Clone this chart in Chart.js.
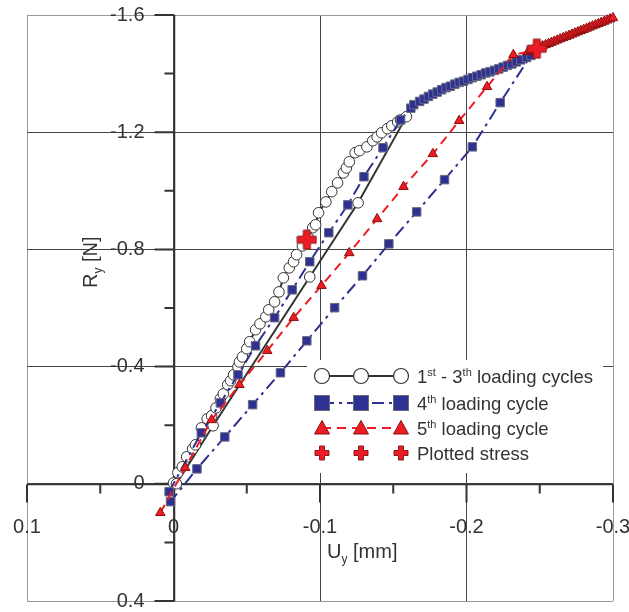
<!DOCTYPE html>
<html>
<head>
<meta charset="utf-8">
<style>
  body { margin: 0; background: #fff; }
  canvas { display: block; }
</style>
</head>
<body>
<canvas id="cycles_chart" width="629" height="612"></canvas>
<script src="https://cdn.jsdelivr.net/npm/chart.js"></script>
<script>
    // U_y [mm] and R_y [N]
    const uxCycles13 = [0.000, -0.003, -0.006, -0.009, -0.013, -0.015, -0.019, -0.023, -0.026, -0.029, -0.032, -0.034, -0.037, -0.039, -0.041, -0.044, -0.045, -0.047, -0.050, -0.052, -0.056, -0.059, -0.063, -0.065, -0.069, -0.072, -0.075, -0.079, -0.082, -0.084, -0.088, -0.092, -0.095, -0.097, -0.099, -0.104, -0.108, -0.112, -0.116, -0.118, -0.120, -0.124, -0.127, -0.132, -0.136, -0.139, -0.142, -0.146, -0.149, -0.153, -0.155, -0.159,
        -0.126, -0.093, -0.027, -0.002];
    const ryCycles13 = [-0.003, -0.038, -0.058, -0.092, -0.119, -0.133, -0.191, -0.222, -0.232, -0.259, -0.290, -0.307, -0.338, -0.352, -0.372, -0.399, -0.416, -0.433, -0.461, -0.485, -0.526, -0.546, -0.570, -0.594, -0.621, -0.655, -0.703, -0.737, -0.758, -0.782, -0.812, -0.840, -0.874, -0.884, -0.925, -0.962, -0.997, -1.027, -1.061, -1.078, -1.099, -1.130, -1.137, -1.150, -1.171, -1.184, -1.198, -1.212, -1.222, -1.235, -1.242, -1.253,
        -0.959, -0.706, -0.198, 0.000];

    const uxCycle4 = [0.003, -0.019, -0.032, -0.044, -0.056, -0.069, -0.081, -0.093, -0.106, -0.119, -0.130, -0.143, -0.155,
        -0.162, -0.164, -0.168, -0.171, -0.174, -0.177, -0.180, -0.183, -0.186, -0.189, -0.192, -0.195, -0.198, -0.201, -0.204, -0.207, -0.210, -0.213, -0.216, -0.219, -0.222, -0.225, -0.228, -0.231, -0.234, -0.237, -0.241, -0.244,
        -0.223, -0.204, -0.185, -0.166, -0.147, -0.129, -0.110, -0.091, -0.073, -0.054, -0.035, -0.016, 0.002];
    const ryCycle4 = [0.027, -0.174, -0.276, -0.372, -0.471, -0.567, -0.662, -0.758, -0.857, -0.952, -1.048, -1.147, -1.242,
        -1.282, -1.294, -1.305, -1.313, -1.322, -1.330, -1.337, -1.345, -1.352, -1.357, -1.364, -1.370, -1.374, -1.380, -1.386, -1.391, -1.396, -1.402, -1.406, -1.411, -1.416, -1.422, -1.428, -1.433, -1.440, -1.447, -1.455, -1.462,
        -1.301, -1.150, -1.038, -0.928, -0.819, -0.710, -0.601, -0.488, -0.379, -0.270, -0.160, -0.051, 0.061];

    const uxCycle5 = [0.009, -0.008, -0.026, -0.045, -0.064, -0.082, -0.101, -0.120, -0.139, -0.157, -0.177, -0.195, -0.214, -0.232,
        -0.242, -0.244, -0.246, -0.248, -0.250, -0.252, -0.254, -0.256, -0.258, -0.260, -0.262, -0.264, -0.266, -0.268, -0.270, -0.272, -0.274, -0.276, -0.278, -0.280, -0.282, -0.284, -0.286, -0.288, -0.290, -0.292, -0.294, -0.296, -0.298, -0.300];
    const ryCycle5 = [0.099, -0.055, -0.218, -0.338, -0.454, -0.567, -0.676, -0.788, -0.904, -1.014, -1.126, -1.239, -1.355, -1.464,
        -1.474, -1.478, -1.482, -1.486, -1.490, -1.494, -1.498, -1.502, -1.506, -1.510, -1.514, -1.518, -1.522, -1.526, -1.530, -1.534, -1.538, -1.542, -1.546, -1.550, -1.554, -1.558, -1.562, -1.566, -1.570, -1.574, -1.578, -1.582, -1.586, -1.590];

    const uxStress = [-0.091, -0.248];
    const ryStress = [-0.833, -1.485];

    const xTicks = [0.1, 0, -0.1, -0.2, -0.3];
    const xTickLabels = ['0.1', '0', '-0.1', '-0.2', '-0.3'];
    const xMinor = [0.05, -0.05, -0.15, -0.25];
    const yTicks = [-1.6, -1.2, -0.8, -0.4, 0, 0.4];
    const yTickLabels = ['-1.6', '-1.2', '-0.8', '-0.4', '0', '0.4'];
    const yMinor = [-1.4, -1.0, -0.6, -0.2, 0.2];

    const FONT = '"Liberation Sans", Arial, sans-serif';
    const BLUE = '#2e3192';
    const RED = '#ed1c24';

    function pairs(xs, ys) {
        return xs.map((v, i) => ({x: v, y: ys[i]}));
    }

    function makePlus(size, arm) {
        const c = document.createElement('canvas');
        c.width = c.height = size;
        const g = c.getContext('2d');
        const m = size / 2, h = arm / 2, e = size / 2 - 1;
        g.beginPath();
        g.moveTo(m - h, m - e); g.lineTo(m + h, m - e); g.lineTo(m + h, m - h);
        g.lineTo(m + e, m - h); g.lineTo(m + e, m + h); g.lineTo(m + h, m + h);
        g.lineTo(m + h, m + e); g.lineTo(m - h, m + e); g.lineTo(m - h, m + h);
        g.lineTo(m - e, m + h); g.lineTo(m - e, m - h); g.lineTo(m - h, m - h);
        g.closePath();
        g.fillStyle = RED;
        g.fill();
        g.strokeStyle = '#8a1c1c';
        g.lineWidth = 1;
        g.stroke();
        return c;
    }
    const plusBig = makePlus(21, 7);
    const plusSmall = makePlus(16, 5);

    // text with super/subscript pieces
    function drawRich(ctx, parts, x, y, size) {
        parts.forEach(p => {
            const s = p.sup || p.sub ? Math.round(size * 0.62) : size;
            ctx.font = s + 'px ' + FONT;
            const dy = p.sup ? -size * 0.36 : (p.sub ? size * 0.25 : 0);
            ctx.fillText(p.t, x, y + dy);
            x += ctx.measureText(p.t).width;
        });
    }

    function drawMarker(ctx, kind, cx, cy) {
        ctx.save();
        ctx.setLineDash([]);
        ctx.lineWidth = 1;
        if (kind === 'circle') {
            ctx.beginPath();
            ctx.arc(cx, cy, 7.5, 0, Math.PI * 2);
            ctx.fillStyle = '#fff';
            ctx.fill();
            ctx.strokeStyle = '#333';
            ctx.lineWidth = 1.2;
            ctx.stroke();
        } else if (kind === 'rect') {
            ctx.fillStyle = BLUE;
            ctx.fillRect(cx - 7.5, cy - 7.5, 15, 15);
            ctx.strokeStyle = '#6b6b80';
            ctx.strokeRect(cx - 7.5, cy - 7.5, 15, 15);
        } else if (kind === 'triangle') {
            ctx.beginPath();
            ctx.moveTo(cx, cy - 7.5);
            ctx.lineTo(cx + 7.5, cy + 6);
            ctx.lineTo(cx - 7.5, cy + 6);
            ctx.closePath();
            ctx.fillStyle = RED;
            ctx.fill();
            ctx.strokeStyle = '#8a1010';
            ctx.stroke();
        } else {
            ctx.drawImage(plusSmall, cx - 8, cy - 8, 16, 16);
        }
        ctx.restore();
    }

    const legendRows = [
        {kind: 'circle', color: '#333', dash: [], parts: [{t: '1'}, {t: 'st', sup: true}, {t: ' - 3'}, {t: 'th', sup: true}, {t: ' loading cycles'}]},
        {kind: 'rect', color: BLUE, dash: [12, 5, 3, 5], parts: [{t: '4'}, {t: 'th', sup: true}, {t: ' loading cycle'}]},
        {kind: 'triangle', color: RED, dash: [9, 6], parts: [{t: '5'}, {t: 'th', sup: true}, {t: ' loading cycle'}]},
        {kind: 'plus', color: null, dash: [], parts: [{t: 'Plotted stress'}]}
    ];

    const axesDecor = {
        id: 'axesDecor',
        beforeDatasetsDraw(chart) {
            const {ctx, chartArea: a, scales: {x, y}} = chart;
            const x0 = Math.round(x.getPixelForValue(0)) + 0.5;
            const y0 = Math.round(y.getPixelForValue(0)) + 0.5;
            ctx.save();
            ctx.strokeStyle = '#333';
            ctx.lineWidth = 1.5;
            ctx.beginPath();
            ctx.moveTo(x0, a.top); ctx.lineTo(x0, a.bottom);
            ctx.moveTo(a.left, y0); ctx.lineTo(a.right, y0);
            ctx.stroke();

            ctx.lineWidth = 2;
            ctx.beginPath();
            xTicks.forEach(v => { const px = x.getPixelForValue(v); ctx.moveTo(px, y0); ctx.lineTo(px, y0 + 18); });
            xMinor.forEach(v => { const px = x.getPixelForValue(v); ctx.moveTo(px, y0); ctx.lineTo(px, y0 + 9); });
            yTicks.forEach(v => { const py = y.getPixelForValue(v); ctx.moveTo(x0 - 20, py); ctx.lineTo(x0, py); });
            yMinor.forEach(v => { const py = y.getPixelForValue(v); ctx.moveTo(x0 - 10, py); ctx.lineTo(x0, py); });
            ctx.stroke();

            ctx.fillStyle = '#333';
            ctx.font = '20px ' + FONT;
            ctx.textBaseline = 'middle';
            ctx.textAlign = 'center';
            xTicks.forEach((v, i) => ctx.fillText(xTickLabels[i], x.getPixelForValue(v), y0 + 43));
            ctx.textAlign = 'right';
            yTicks.forEach((v, i) => ctx.fillText(yTickLabels[i], x0 - 30, y.getPixelForValue(v)));

            // axis titles
            ctx.textAlign = 'left';
            ctx.textBaseline = 'alphabetic';
            drawRich(ctx, [{t: 'U'}, {t: 'y', sub: true}, {t: ' [mm]'}], 327, 558, 20);
            ctx.translate(97, 288);
            ctx.rotate(-Math.PI / 2);
            drawRich(ctx, [{t: 'R'}, {t: 'y', sub: true}, {t: ' [N]'}], 0, 0, 20);
            ctx.restore();
        },
        afterDatasetsDraw(chart) {
            const {ctx} = chart;
            ctx.save();
            ctx.fillStyle = '#fff';
            ctx.fillRect(307, 360, 296, 113);
            const rowY = [376, 403, 428, 453];
            const mx = [322, 361, 401];
            legendRows.forEach((r, i) => {
                const cy = rowY[i];
                if (r.color) {
                    ctx.strokeStyle = r.color;
                    ctx.lineWidth = 2;
                    ctx.setLineDash(r.dash);
                    ctx.beginPath();
                    ctx.moveTo(mx[0], cy);
                    ctx.lineTo(mx[2], cy);
                    ctx.stroke();
                    ctx.setLineDash([]);
                }
                mx.forEach(px => drawMarker(ctx, r.kind, px, cy));
                ctx.fillStyle = '#333';
                ctx.textAlign = 'left';
                ctx.textBaseline = 'alphabetic';
                drawRich(ctx, r.parts, 417, cy + 7, 18.5);
            });
            ctx.restore();
        }
    };

    const gridColor = (c) => (c.index === 0 || c.index === c.scale.ticks.length - 1) ? '#999' : '#444';

    const cycles_chart = new Chart(document.getElementById('cycles_chart'), {
        type: 'scatter',
        data: {
            datasets: [{
                label: 'Plotted stress',
                data: pairs(uxStress, ryStress),
                showLine: false,
                pointStyle: plusBig,
                pointRadius: 10,
                order: 0,
                clip: false
            }, {
                label: '5th loading cycle',
                data: pairs(uxCycle5, ryCycle5),
                showLine: true,
                borderColor: RED,
                borderWidth: 2,
                borderDash: [9, 6],
                pointStyle: 'triangle',
                pointRadius: 5.5,
                pointBackgroundColor: RED,
                pointBorderColor: '#8a1010',
                pointBorderWidth: 1,
                order: 1,
                clip: false
            }, {
                label: '4th loading cycle',
                data: pairs(uxCycle4, ryCycle4),
                showLine: true,
                borderColor: BLUE,
                borderWidth: 2,
                borderDash: [12, 5, 3, 5],
                pointStyle: 'rect',
                pointRadius: 6,
                pointBackgroundColor: BLUE,
                pointBorderColor: '#6b6b80',
                pointBorderWidth: 1,
                order: 2,
                clip: false
            }, {
                label: '1st - 3th loading cycles',
                data: pairs(uxCycles13, ryCycles13),
                showLine: true,
                borderColor: '#333',
                borderWidth: 2,
                pointStyle: 'circle',
                pointRadius: 5.3,
                pointBackgroundColor: '#fff',
                pointBorderColor: '#333',
                pointBorderWidth: 1,
                order: 3,
                clip: false
            }]
        },
        options: {
            responsive: false,
            animation: false,
            layout: {
                padding: {left: 27, top: 15, right: 16, bottom: 11}
            },
            plugins: {
                legend: {display: false},
                tooltip: {enabled: false}
            },
            scales: {
                x: {
                    type: 'linear',
                    min: -0.3,
                    max: 0.1,
                    reverse: true,
                    ticks: {display: false, stepSize: 0.1},
                    grid: {color: gridColor, drawTicks: false, lineWidth: 1},
                    border: {display: false}
                },
                y: {
                    type: 'linear',
                    min: -1.6,
                    max: 0.4,
                    reverse: true,
                    ticks: {display: false, stepSize: 0.4},
                    grid: {color: gridColor, drawTicks: false, lineWidth: 1},
                    border: {display: false}
                }
            }
        },
        plugins: [axesDecor]
    });
</script>
</body>
</html>
